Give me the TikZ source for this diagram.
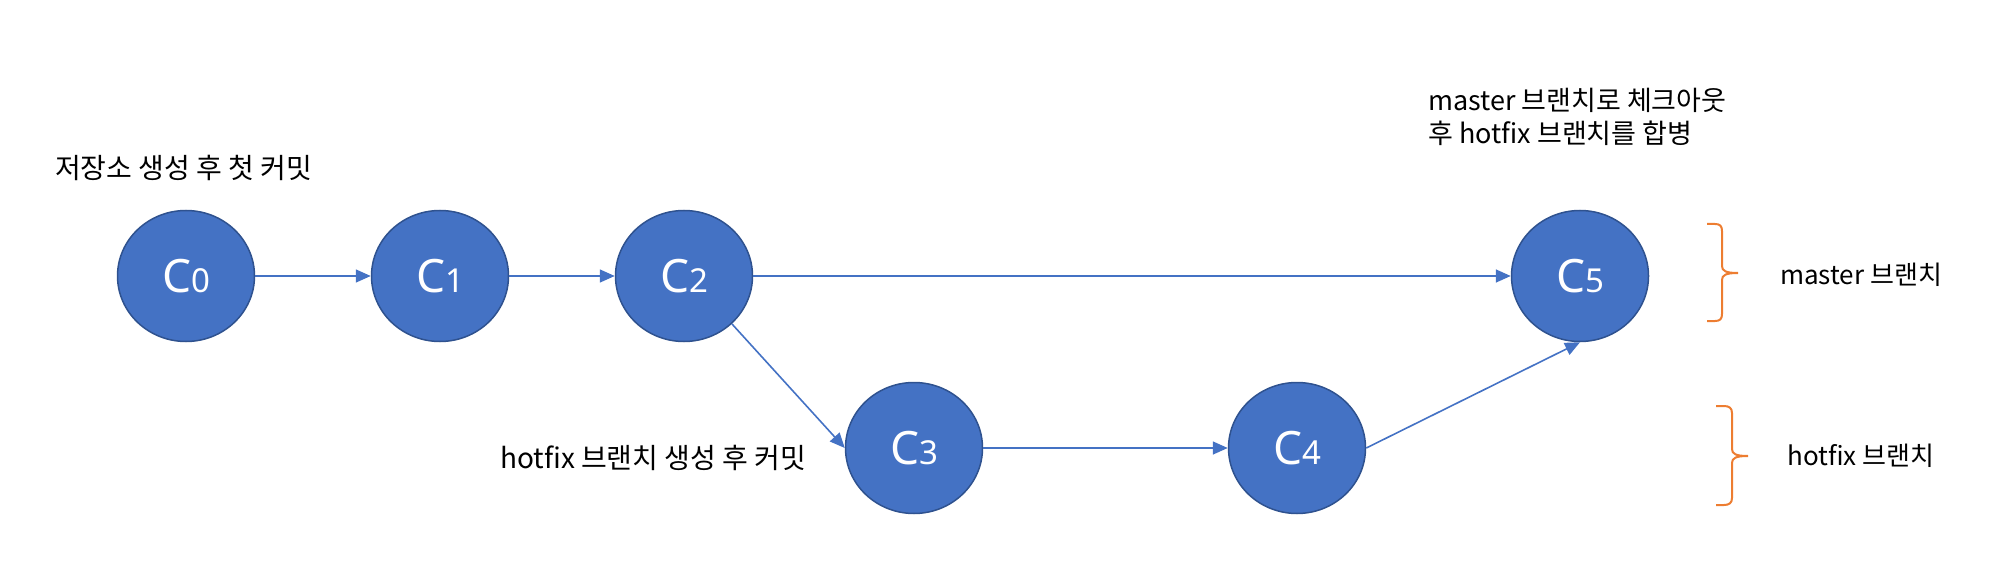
\documentclass[tikz,border=0pt]{standalone}
\usepackage{fontspec}
\setmainfont{Noto Sans CJK KR}
\newfontfamily\clabel{Noto Sans}
\usetikzlibrary{arrows.meta,shapes.geometric}
\definecolor{cblue}{HTML}{4472C4}
\definecolor{cedge}{HTML}{2F528F}
\definecolor{corange}{HTML}{ED7D31}
\tikzset{
  commit/.style={ellipse, fill=cblue, draw=cedge, line width=1.5pt,
    minimum width=137pt, minimum height=131pt, inner sep=0pt, text=white,
    font=\clabel\fontsize{46}{50}\selectfont},
  link/.style={draw=cblue, line width=1.6pt, -{Triangle[length=15pt,width=13pt]}},
  note/.style={font=\fontsize{26}{33}\selectfont, inner sep=0pt, anchor=west},
  bignote/.style={note, font=\fontsize{28}{33}\selectfont},
  bracepath/.style={draw=corange, line width=2pt}
}
\newcommand{\sub}[1]{{\fontsize{33}{36}\selectfont #1}}
\begin{document}
\begin{tikzpicture}[x=1pt,y=-1pt]
\useasboundingbox (0,0) rectangle (2008,580);
\node[commit] (c0) at (186,276) {C\sub{0}};
\node[commit] (c1) at (440,276) {C\sub{1}};
\node[commit] (c2) at (684,276) {C\sub{2}};
\node[commit] (c5) at (1580,276) {C\sub{5}};
\node[commit] (c3) at (914,448) {C\sub{3}};
\node[commit] (c4) at (1297,448) {C\sub{4}};

\draw[link] (c0.east) -- (c1.west);
\draw[link] (c1.east) -- (c2.west);
\draw[link] (c2.east) -- (c5.west);
\draw[link] (c2.-45) -- (c3.west);
\draw[link] (c3.east) -- (c4.west);
\draw[link] (c4.east) -- (c5.south);

\node[bignote] (t0) at (55,168) {저장소 생성 후 첫 커밋};
\node[bignote] (t3) at (500,458) {hotfix 브랜치 생성 후 커밋};
\node[note, align=left, font=\fontsize{27}{33}\selectfont] (t5) at (1428,117) {master 브랜치로 체크아웃\\후 hotfix 브랜치를 합병};
\node[note] (tm) at (1780,275) {master 브랜치};
\node[note] (th) at (1787,456) {hotfix 브랜치};

\draw[bracepath] (1707,224) -- (1715,224) .. controls (1720,224) and (1722,226) .. (1722,231)
  -- (1722,266) .. controls (1722,271) and (1726,273) .. (1738,273)
  .. controls (1726,273) and (1722,275) .. (1722,280)
  -- (1722,314) .. controls (1722,319) and (1720,321) .. (1715,321) -- (1707,321);
\draw[bracepath] (1716,406) -- (1724,406) .. controls (1729,406) and (1732,408) .. (1732,413)
  -- (1732,449) .. controls (1732,454) and (1736,456) .. (1748,456)
  .. controls (1736,456) and (1732,458) .. (1732,463)
  -- (1732,498) .. controls (1732,503) and (1729,505) .. (1724,505) -- (1716,505);
\end{tikzpicture}
\end{document}
